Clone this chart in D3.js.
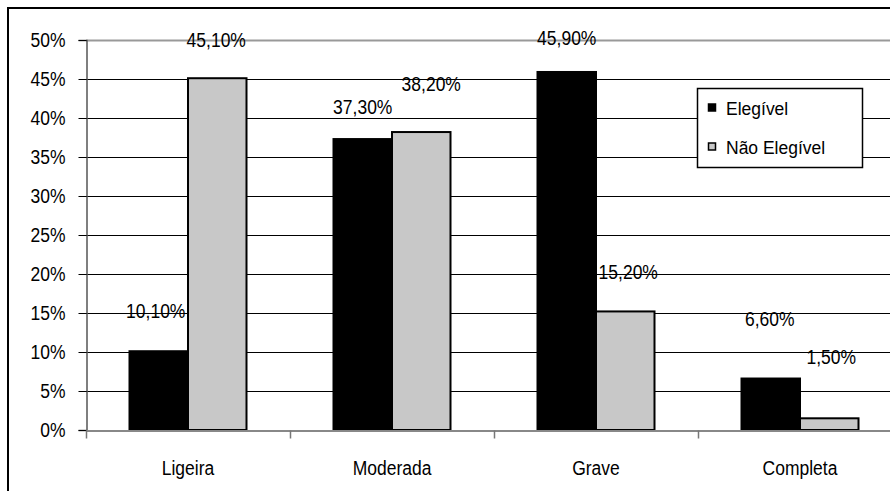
<!DOCTYPE html>
<html>
<head>
<meta charset="utf-8">
<script src="https://cdn.jsdelivr.net/npm/d3@7"></script>
<style>
  html, body { margin: 0; padding: 0; background: #fff; }
  svg { display: block; }
  text { font-family: "Liberation Sans", Arial, sans-serif; fill: #000; }
</style>
</head>
<body>
<svg id="chart" width="890" height="491"></svg>
<script>
// ---- data ----
const categories = ["Ligeira", "Moderada", "Grave", "Completa"];
const seriesNames = ["Elegível", "Não Elegível"];
const elegivel = [10.1, 37.3, 45.9, 6.6];
const naoElegivel = [45.1, 38.2, 15.2, 1.5];
const elegivelLabels = ["10,10%", "37,30%", "45,90%", "6,60%"];
const naoElegivelLabels = ["45,10%", "38,20%", "15,20%", "1,50%"];
const yTicks = [0, 5, 10, 15, 20, 25, 30, 35, 40, 45, 50];

// label placement tweaks (pixels, hand-placed labels in the original)
const elegivelLabelDy = [-40, -32, -34, -60];
const naoElegivelLabelDy = [-38, -48, -39, -61];
const elegivelLabelDx = [-3, 0, 0, -1];
const naoElegivelLabelDx = [-1, 10, 3, 2];

const svg = d3.select("#chart");
const plot = { left: 86, right: 902, top: 40, bottom: 430 };
const fontSize = 17.5;
const stretch = 1.15;

const x = d3.scaleBand().domain(categories).range([plot.left, plot.right]).paddingInner(0).paddingOuter(0);
const groupW = 117;
const xs = d3.scaleBand().domain(seriesNames)
  .range([(x.bandwidth() - groupW) / 2, (x.bandwidth() + groupW) / 2]).padding(0);
const y = d3.scaleLinear().domain([0, 50]).range([plot.bottom, plot.top]);

// outer frame
svg.append("rect").attr("x", 8).attr("y", 8).attr("width", 900).attr("height", 500)
  .attr("fill", "none").attr("stroke", "#000").attr("stroke-width", 2);

// gridlines
svg.append("g").selectAll("line").data(yTicks.filter(d => d > 0)).join("line")
  .attr("x1", plot.left).attr("x2", plot.right)
  .attr("y1", d => Math.round(y(d)) + 0.5).attr("y2", d => Math.round(y(d)) + 0.5)
  .attr("stroke", d => d === 50 ? "#999" : "#000")
  .attr("stroke-width", d => d === 50 ? 2 : 1);

// y axis
const yAxis = d3.axisLeft(y).tickValues(yTicks).tickSize(8).tickPadding(0)
  .tickFormat(d => d + "%");
const gy = svg.append("g").attr("transform", `translate(${plot.left + 0.5},0)`).call(yAxis);
gy.select(".domain").attr("stroke", "#555").attr("stroke-width", 1.5);
gy.selectAll(".tick line").attr("stroke", "#000");
gy.selectAll(".tick text").remove();
gy.selectAll(".tick").append("text")
  .attr("text-anchor", "end")
  .attr("font-size", fontSize)
  .attr("transform", `translate(-21,6.5) scale(1,${stretch})`)
  .text(d => d + "%");

// bars
const series = [
  { name: seriesNames[0], values: elegivel, labels: elegivelLabels, dy: elegivelLabelDy, dx: elegivelLabelDx, fill: "#000" },
  { name: seriesNames[1], values: naoElegivel, labels: naoElegivelLabels, dy: naoElegivelLabelDy, dx: naoElegivelLabelDx, fill: "#c8c8c8" }
];

series.forEach(s => {
  svg.append("g").selectAll("rect").data(s.values).join("rect")
    .attr("x", (d, i) => x(categories[i]) + xs(s.name))
    .attr("y", d => y(d))
    .attr("width", xs.bandwidth())
    .attr("height", d => y(0) - y(d))
    .attr("fill", s.fill)
    .attr("stroke", "#000")
    .attr("stroke-width", 2);
});

// x axis
const xAxis = d3.axisBottom(x).tickSize(0).tickFormat("");
const gx = svg.append("g").attr("transform", `translate(0,${plot.bottom + 0.5})`).call(xAxis);
gx.select(".domain").attr("stroke", "#888").attr("stroke-width", 2);
gx.selectAll(".tick").remove();
const boundaries = categories.map(c => x(c)).concat([x(categories[categories.length - 1]) + x.bandwidth()]);
gx.selectAll("line.sep").data(boundaries).join("line").attr("class", "sep")
  .attr("x1", d => d + 0.5).attr("x2", d => d + 0.5).attr("y1", 0).attr("y2", 8)
  .attr("stroke", "#777").attr("stroke-width", 1.5);
gx.selectAll("text.cat").data(categories).join("text").attr("class", "cat")
  .attr("text-anchor", "middle")
  .attr("font-size", fontSize)
  .attr("transform", d => `translate(${x(d) + x.bandwidth() / 2},44) scale(1,${stretch})`)
  .text(d => d);

// value labels
series.forEach(s => {
  svg.append("g").selectAll("text").data(s.values).join("text")
    .attr("text-anchor", "middle")
    .attr("font-size", fontSize)
    .attr("transform", (d, i) => {
      const cx = x(categories[i]) + xs(s.name) + xs.bandwidth() / 2 + s.dx[i];
      const cy = y(d) + s.dy[i] + 7;
      return `translate(${cx},${cy}) scale(1,${stretch})`;
    })
    .text((d, i) => s.labels[i]);
});

// legend
const lg = svg.append("g");
lg.append("rect").attr("x", 697.5).attr("y", 88.5).attr("width", 165).attr("height", 79)
  .attr("fill", "#fff").attr("stroke", "#000").attr("stroke-width", 1.5);
const ly = [108, 147];
series.forEach((s, i) => {
  lg.append("rect").attr("x", 708.5).attr("y", ly[i] - 4).attr("width", 7).attr("height", 7)
    .attr("fill", s.fill).attr("stroke", "#000").attr("stroke-width", 1.5);
  lg.append("text").attr("font-size", fontSize)
    .attr("transform", `translate(726,${ly[i] + 6.5}) scale(1,1.05)`)
    .text(s.name);
});
</script>
</body>
</html>
